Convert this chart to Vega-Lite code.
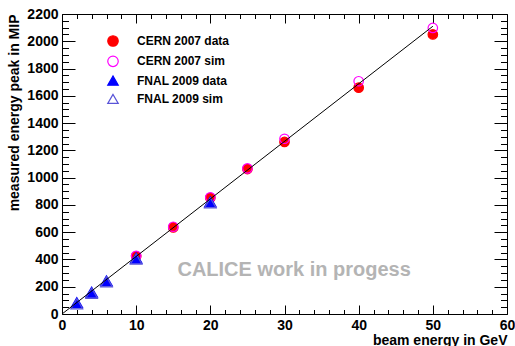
{
  "$schema": "https://vega.github.io/schema/vega-lite/v6.json",
  "width": 445,
  "height": 300,
  "autosize": {"type": "none"},
  "padding": {"left": 62, "top": 14, "right": 8, "bottom": 32},
  "background": "white",
  "config": {
    "view": {"stroke": null},
    "font": "Liberation Sans",
    "axis": {
      "grid": false,
      "domainColor": "black",
      "domainWidth": 1,
      "tickColor": "black",
      "tickWidth": 1,
      "labelFont": "Liberation Sans",
      "labelFontSize": 14,
      "labelFontWeight": "bold",
      "labelColor": "black",
      "labelOverlap": false,
      "labelFlush": false,
      "titleFont": "Liberation Sans",
      "titleFontSize": 14,
      "titleFontWeight": "bold",
      "titleColor": "black"
    },
    "legend": {
      "labelFont": "Liberation Sans",
      "labelFontSize": 12,
      "labelFontWeight": "bold",
      "labelColor": "black",
      "symbolStrokeWidth": 1.2,
      "symbolSize": 110
    }
  },
  "datasets": {
    "points": [
      {"energy": 10, "peak": 423, "series": "CERN 2007 data"},
      {"energy": 15, "peak": 635, "series": "CERN 2007 data"},
      {"energy": 20, "peak": 852, "series": "CERN 2007 data"},
      {"energy": 25, "peak": 1063, "series": "CERN 2007 data"},
      {"energy": 30, "peak": 1262, "series": "CERN 2007 data"},
      {"energy": 40, "peak": 1660, "series": "CERN 2007 data"},
      {"energy": 50, "peak": 2050, "series": "CERN 2007 data"},
      {"energy": 10, "peak": 427, "series": "CERN 2007 sim"},
      {"energy": 15, "peak": 640, "series": "CERN 2007 sim"},
      {"energy": 20, "peak": 856, "series": "CERN 2007 sim"},
      {"energy": 25, "peak": 1068, "series": "CERN 2007 sim"},
      {"energy": 30, "peak": 1285, "series": "CERN 2007 sim"},
      {"energy": 40, "peak": 1707, "series": "CERN 2007 sim"},
      {"energy": 50, "peak": 2098, "series": "CERN 2007 sim"},
      {"energy": 2, "peak": 83, "series": "FNAL 2009 data"},
      {"energy": 4, "peak": 160, "series": "FNAL 2009 data"},
      {"energy": 6, "peak": 243, "series": "FNAL 2009 data"},
      {"energy": 10, "peak": 410, "series": "FNAL 2009 data"},
      {"energy": 20, "peak": 822, "series": "FNAL 2009 data"},
      {"energy": 2, "peak": 75, "series": "FNAL 2009 sim"},
      {"energy": 4, "peak": 152, "series": "FNAL 2009 sim"},
      {"energy": 6, "peak": 236, "series": "FNAL 2009 sim"},
      {"energy": 10, "peak": 403, "series": "FNAL 2009 sim"},
      {"energy": 20, "peak": 815, "series": "FNAL 2009 sim"}
    ],
    "fit": [
      {"energy": 0, "peak": 0},
      {"energy": 50, "peak": 2110}
    ],
    "note": [
      {"energy": 31.3, "peak": 323, "text": "CALICE work in progess"}
    ]
  },
  "resolve": {"axis": {"x": "independent", "y": "independent"}},
  "layer": [
    {
      "data": {"name": "note"},
      "mark": {"type": "text", "font": "Liberation Sans", "fontSize": 20, "fontWeight": "bold", "color": "#b4b4b4", "align": "center", "baseline": "middle"},
      "encoding": {
        "x": {"field": "energy", "type": "quantitative", "scale": {"domain": [0, 60], "nice": false}, "axis": {
          "orient": "bottom",
          "values": [0,2,4,6,8,10,12,14,16,18,20,22,24,26,28,30,32,34,36,38,40,42,44,46,48,50,52,54,56,58,60],
          "tickSize": {"condition": {"test": "datum.value % 10 === 0", "value": -9}, "value": -4.5},
          "format": "d",
          "labelExpr": "datum.value % 10 === 0 ? datum.label : ''",
          "labelPadding": 13,
          "title": "beam energy in GeV",
          "titleAnchor": "end",
          "titleBaseline": "alphabetic",
          "titleY": 30
        }},
        "y": {"field": "peak", "type": "quantitative", "scale": {"domain": [0, 2200], "nice": false}, "axis": {
          "orient": "left",
          "values": [0,50,100,150,200,250,300,350,400,450,500,550,600,650,700,750,800,850,900,950,1000,1050,1100,1150,1200,1250,1300,1350,1400,1450,1500,1550,1600,1650,1700,1750,1800,1850,1900,1950,2000,2050,2100,2150,2200],
          "tickSize": {"condition": {"test": "datum.value % 200 === 0", "value": -13}, "value": -6.5},
          "format": "d",
          "labelExpr": "datum.value % 200 === 0 ? datum.label : ''",
          "labelPadding": 17,
          "title": "measured energy peak in MIP",
          "titleAnchor": "end",
          "titleBaseline": "alphabetic",
          "titleX": -44
        }},
        "text": {"field": "text", "type": "nominal"}
      }
    },
    {
      "data": {"name": "points"},
      "mark": {"type": "point", "opacity": 1, "strokeWidth": 1.2},
      "encoding": {
        "x": {"field": "energy", "type": "quantitative", "axis": null},
        "y": {"field": "peak", "type": "quantitative", "axis": null},
        "shape": {"field": "series", "type": "nominal", "title": null, "scale": {"domain": ["CERN 2007 data", "CERN 2007 sim", "FNAL 2009 data", "FNAL 2009 sim"], "range": ["circle", "circle", "triangle-up", "triangle-up"]},
          "legend": {"orient": "none", "legendX": 45, "legendY": 21, "padding": 0, "labelOffset": 18, "rowPadding": 4.3}},
        "fill": {"field": "series", "type": "nominal", "title": null, "scale": {"domain": ["CERN 2007 data", "CERN 2007 sim", "FNAL 2009 data", "FNAL 2009 sim"], "range": ["#ff0000", "transparent", "#0000ff", "transparent"]}},
        "stroke": {"field": "series", "type": "nominal", "title": null, "scale": {"domain": ["CERN 2007 data", "CERN 2007 sim", "FNAL 2009 data", "FNAL 2009 sim"], "range": ["#ff0000", "#ff00ff", "#0000ff", "#5954d8"]}},
        "size": {"condition": {"test": "indexof(datum.series, 'FNAL') >= 0", "value": 135}, "value": 90}
      }
    },
    {
      "data": {"name": "fit"},
      "mark": {"type": "line", "color": "black", "strokeWidth": 1},
      "encoding": {
        "x": {"field": "energy", "type": "quantitative", "axis": {
          "orient": "top",
          "values": [0,2,4,6,8,10,12,14,16,18,20,22,24,26,28,30,32,34,36,38,40,42,44,46,48,50,52,54,56,58,60],
          "tickSize": {"condition": {"test": "datum.value % 10 === 0", "value": -9}, "value": -4.5},
          "labels": false,
          "title": null
        }},
        "y": {"field": "peak", "type": "quantitative", "axis": {
          "orient": "right",
          "values": [0,50,100,150,200,250,300,350,400,450,500,550,600,650,700,750,800,850,900,950,1000,1050,1100,1150,1200,1250,1300,1350,1400,1450,1500,1550,1600,1650,1700,1750,1800,1850,1900,1950,2000,2050,2100,2150,2200],
          "tickSize": {"condition": {"test": "datum.value % 200 === 0", "value": -13}, "value": -6.5},
          "labels": false,
          "title": null
        }}
      }
    }
  ]
}
